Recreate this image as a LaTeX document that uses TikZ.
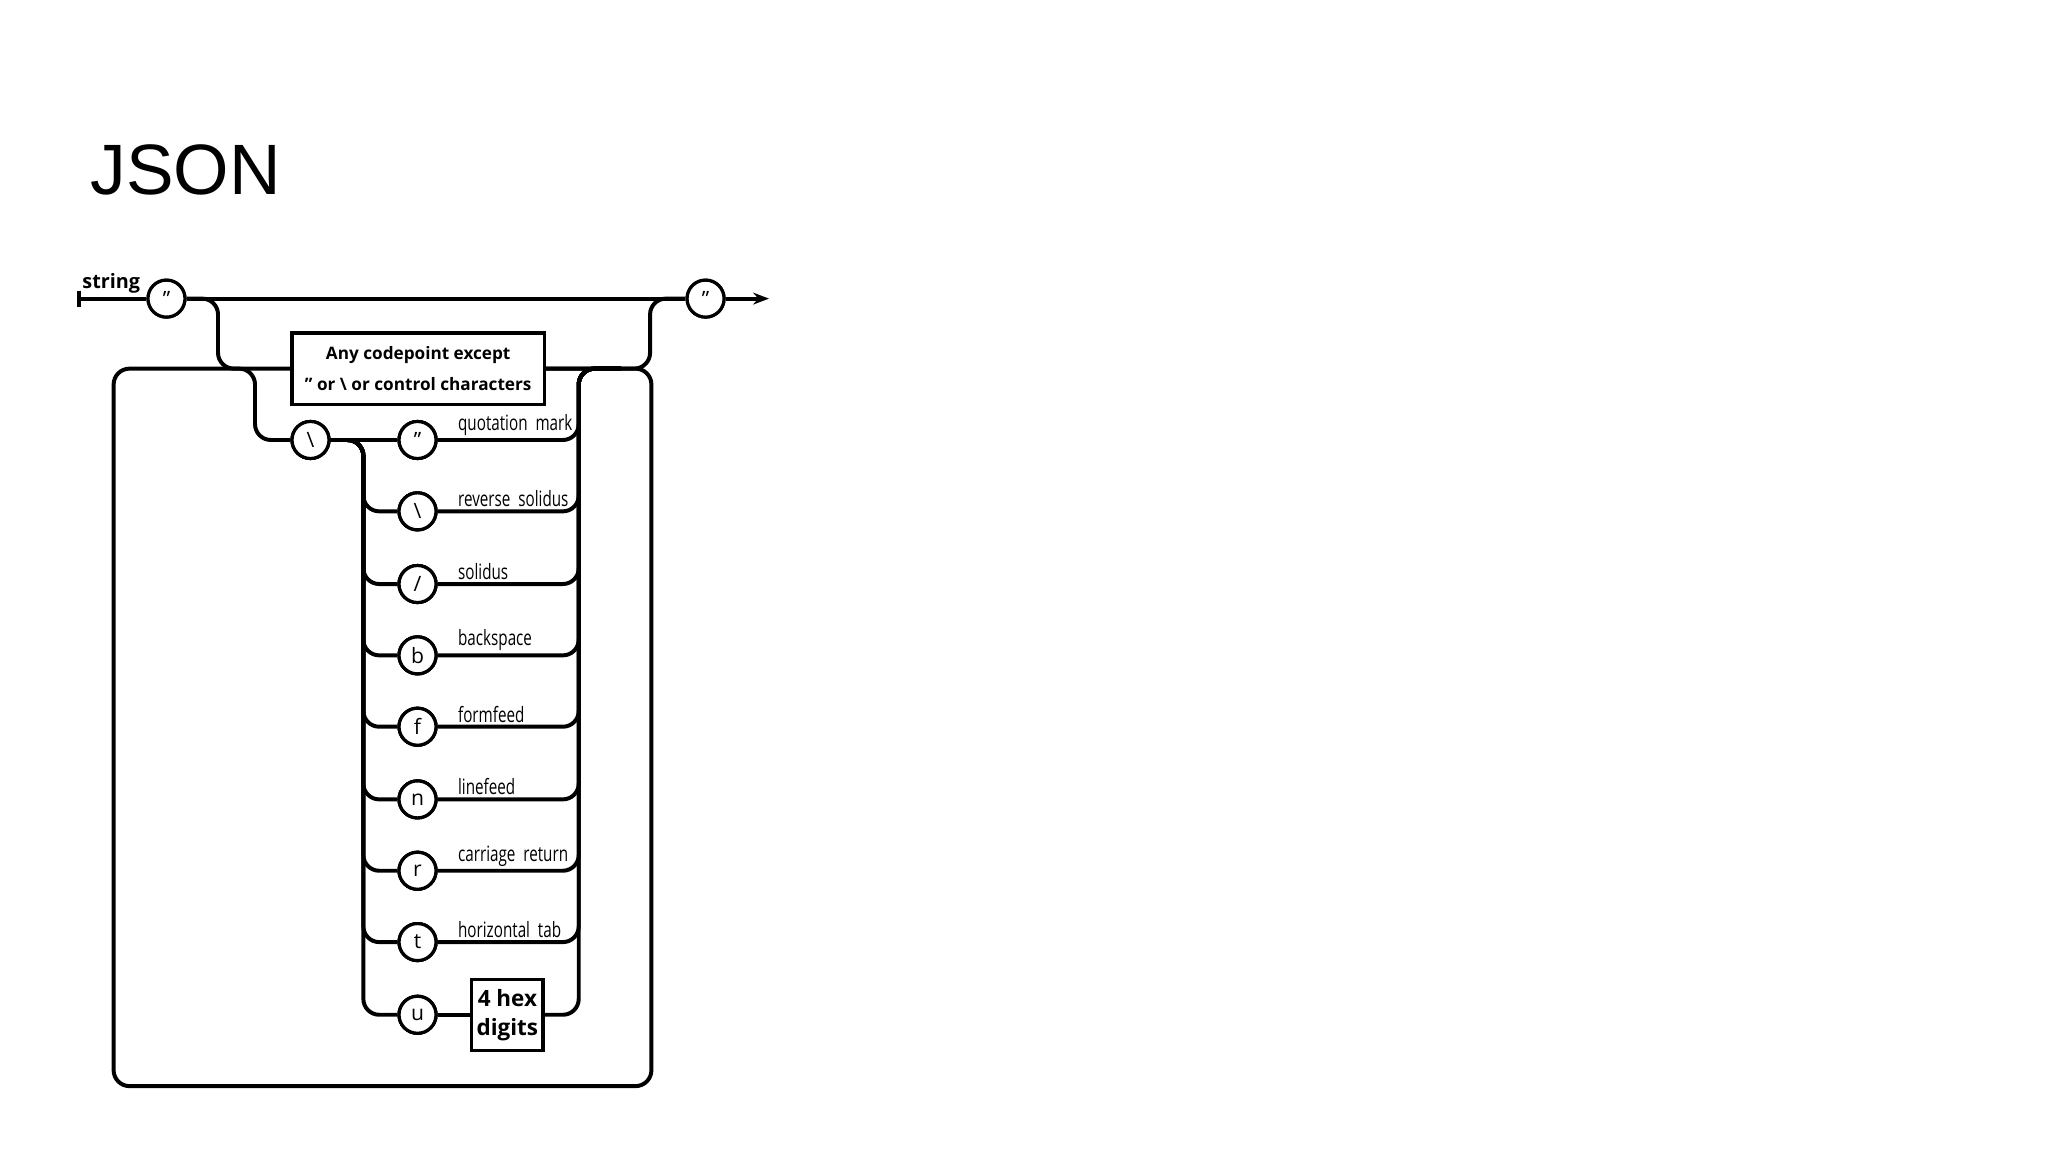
\documentclass[tikz,border=0pt]{standalone}
\usepackage{fontspec}
\setmainfont{Open Sans}
\newfontfamily\jsonfont{Liberation Sans}
\usetikzlibrary{arrows.meta}
\begin{document}
\begin{tikzpicture}[x=0.5pt,y=-0.5pt,
  rail/.style={line width=1.5pt,rounded corners=6pt},
  tok/.style={circle,draw,line width=1.2pt,fill=white,minimum size=14pt,inner sep=0pt,font=\fontsize{8}{8}\selectfont},
  rbox/.style={draw,line width=1.2pt,fill=white,font=\bfseries\fontsize{6.5}{12}\selectfont,align=center,inner sep=0pt},
  lab/.style={anchor=south west,inner sep=1pt,font=\fontsize{8}{8}\selectfont,xscale=0.72}]
\useasboundingbox (0,0) rectangle (1550,872);
\node[anchor=base west,inner sep=0pt,font=\jsonfont\fontsize{27}{27}\selectfont] (title) at (68,147) {JSON};
\node[anchor=base west,inner sep=0pt,font=\bfseries\fontsize{7.5}{8}\selectfont] (strlab) at (62,218) {string};
\coordinate (start) at (60,226);
\coordinate (stop) at (582,226);
\node[tok] (q1) at (126,226) {"};
\node[tok] (q2) at (534,226) {"};
\node[rbox,minimum width=95.5pt,minimum height=27pt] (any) at (316.5,279) {Any codepoint except\\" or \textbackslash\ or control characters};
\node[tok] (bs) at (235,333) {\textbackslash};
% rows
\foreach \n/\y/\c/\t in {e1/333/"/quotation\ \ mark, e2/387/\textbackslash/reverse\ \ solidus, e3/442//solidus, e4/496/b/backspace, e5/550/f/formfeed, e6/605/n/linefeed, e7/659/r/carriage\ \ return, e8/713/t/horizontal\ \ tab}{
  \node[tok] (\n) at (316,\y) {\c};
  \node[lab] (\n l) at (345,\y-1) {\t};
}
\node[tok] (u) at (316,768) {u};
\node[rbox,font=\bfseries\fontsize{8.5}{11}\selectfont,minimum width=27pt,minimum height=27pt] (hex) at (384,768) {4 hex\\digits};
% main rail
\draw[rail] (start) -- (q1);
\draw[line width=1.5pt] (60,220) -- (60,232);
\draw[rail,-{Stealth[length=6pt]}] (q2) -- (stop);
\draw[rail] (q1) -- (q2);
\draw[rail] (q1.east) -| (165,279) -- (any.west);
\draw[rail] (any.east) -| (492,226) -- (q2.west);
% loop
\draw[rail] (any.east) -| (493,822) -| (86,279) -| (193,333) -- (bs.west);
% escapes
\draw[rail] (bs) -- (e1);
\foreach \n in {e2,e3,e4,e5,e6,e7,e8,u}{
  \draw[rail] (bs.east) -| (275,0|-\n) -- (\n.west);
}
\foreach \n in {e1,e2,e3,e4,e5,e6,e7,e8,hex}{
  \draw[rail] (\n.east) -| (438,279) -- (470,279);
}
\draw[rail] (u) -- (hex);
\foreach \n in {e1,e2,e3,e4,e5,e6,e7,e8,u,bs}{\node[tok] at (\n) {};}
\node[tok] at (e1) {"};\node[tok] at (e2) {\textbackslash};\node[tok] at (e3) {/};
\node[tok] at (e4) {b};\node[tok] at (e5) {f};\node[tok] at (e6) {n};
\node[tok] at (e7) {r};\node[tok] at (e8) {t};\node[tok] at (u) {u};\node[tok] at (bs) {\textbackslash};
\node[tok] at (q1) {"};\node[tok] at (q2) {"};
\node[rbox,minimum width=95.5pt,minimum height=27pt] at (any) {Any codepoint except\\" or \textbackslash\ or control characters};
\node[rbox,font=\bfseries\fontsize{8.5}{11}\selectfont,minimum width=27pt,minimum height=27pt] at (hex) {4 hex\\digits};
\end{tikzpicture}
\end{document}
